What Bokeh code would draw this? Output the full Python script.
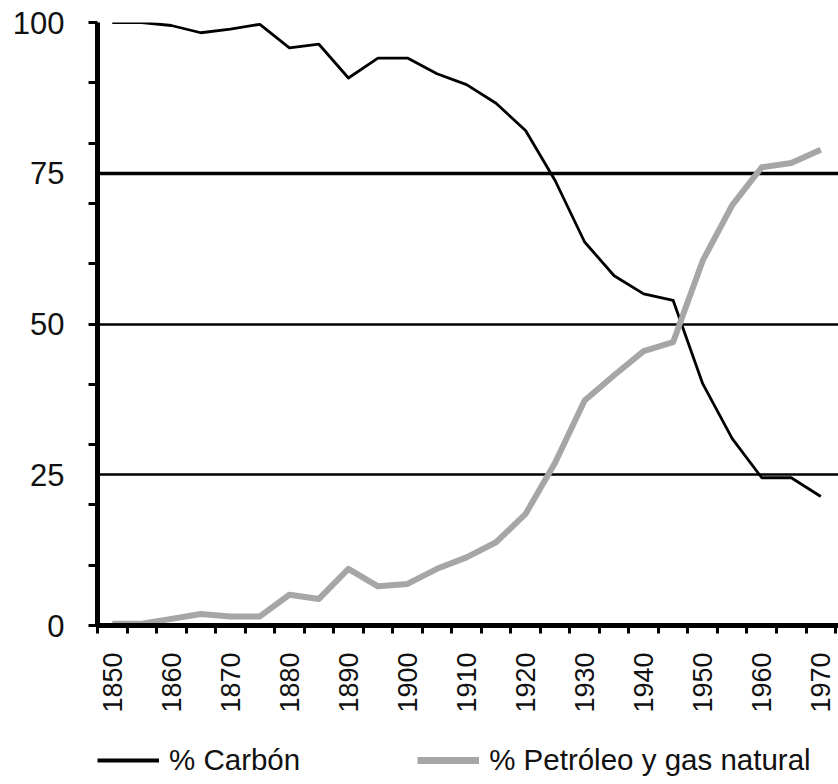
import math
from bokeh.plotting import figure
from bokeh.layouts import column
from bokeh.models import FixedTicker, Grid, Legend, LegendItem, Range1d
from bokeh.embed import file_html
from bokeh.resources import INLINE

# ---- data ----
years = list(range(1850, 1975, 5))
carbon = [100, 100, 99.5, 98.3, 98.9, 99.7, 95.8, 96.4, 90.8, 94.1, 94.1,
          91.5, 89.7, 86.6, 82.1, 73.8, 63.6, 58.0, 55.0, 53.9, 40.1,
          31.0, 24.5, 24.5, 21.4]
petroleo = [0.3, 0.3, 1.1, 1.9, 1.5, 1.5, 5.1, 4.4, 9.4, 6.5, 6.9,
            9.4, 11.3, 13.8, 18.5, 27.0, 37.3, 41.5, 45.5, 47.0, 60.5,
            69.7, 76.0, 76.7, 78.9]
labels = ["% Carbón", "% Petróleo y gas natural"]

x_label_ticks = list(range(1850, 1980, 10))
x_boundaries = [y - 2.5 for y in years] + [years[-1] + 2.5]
y_label_ticks = [0, 25, 50, 75, 100]
y_minor_ticks = list(range(0, 110, 10))
grid_thin = [25, 50, 100]
grid_thick = [75]

FONT = "Liberation Sans"
BLACK_STYLE = dict(line_color="black", line_width=2.8, line_join="round")
GREY_STYLE = dict(line_color="#a6a6a6", line_width=6, line_join="round")

p = figure(width=838, height=720, output_backend="svg", toolbar_location=None,
           x_range=Range1d(1847.5, 1973), y_range=Range1d(0, 100),
           min_border_left=97, min_border_top=22, min_border_bottom=95,
           min_border_right=0)
p.outline_line_color = None
p.background_fill_color = "white"
p.border_fill_color = "white"

# grids
p.xgrid.visible = False
p.ygrid.ticker = FixedTicker(ticks=grid_thin)
p.ygrid.grid_line_color = "black"
p.ygrid.grid_line_width = 2.5
g2 = Grid(dimension=1, ticker=FixedTicker(ticks=grid_thick),
          grid_line_color="black", grid_line_width=3.5)
p.add_layout(g2, "center")

# x axis
xa = p.xaxis[0]
xa.ticker = FixedTicker(ticks=x_label_ticks, minor_ticks=x_boundaries)
xa.major_tick_out = 0
xa.major_tick_in = 0
xa.minor_tick_out = 8
xa.minor_tick_in = 0
xa.minor_tick_line_width = 3
xa.minor_tick_line_color = "black"
xa.axis_line_width = 5
xa.axis_line_color = "black"
xa.major_label_orientation = math.pi / 2
xa.major_label_standoff = 19
xa.major_label_text_font = FONT
xa.major_label_text_font_size = "27px"
xa.major_label_text_color = "#111111"

# y axis
ya = p.yaxis[0]
ya.ticker = FixedTicker(ticks=y_label_ticks, minor_ticks=y_minor_ticks)
ya.major_tick_out = 0
ya.major_tick_in = 0
ya.minor_tick_out = 9
ya.minor_tick_in = 0
ya.minor_tick_line_width = 3
ya.minor_tick_line_color = "black"
ya.axis_line_width = 5
ya.axis_line_color = "black"
ya.major_label_standoff = 24
ya.major_label_text_font = FONT
ya.major_label_text_font_size = "31px"
ya.major_label_text_color = "#111111"

# lines
p.line(years, carbon, **BLACK_STYLE)
p.line(years, petroleo, **GREY_STYLE)

# legend strip below the chart (series drawn out of view, only keys show)
lg = figure(width=838, height=64, output_backend="svg", toolbar_location=None,
            x_axis_type=None, y_axis_type=None,
            x_range=Range1d(0, 1), y_range=Range1d(0, 1),
            min_border=0, min_border_left=0, min_border_right=0,
            min_border_top=0, min_border_bottom=0)
lg.outline_line_color = None
lg.background_fill_color = "white"
lg.border_fill_color = "white"
lg.xgrid.visible = False
lg.ygrid.visible = False
k1 = lg.line(years, carbon, line_color="black", line_width=4)
k2 = lg.line(years, petroleo, line_color="#a6a6a6", line_width=7)
legend = Legend(items=[LegendItem(label=labels[0], renderers=[k1]),
                       LegendItem(label=labels[1], renderers=[k2])],
                orientation="horizontal", location=(0, 7),
                glyph_width=62, glyph_height=32, label_height=32,
                label_standoff=10, spacing=117, padding=0, margin=0,
                border_line_color=None, background_fill_alpha=0,
                label_text_font=FONT, label_text_font_size="29.5px",
                label_text_color="#111111")
lg.add_layout(legend, "center")

layout = column(p, lg, spacing=0)
open("out.html", "w").write(file_html(layout, INLINE))
